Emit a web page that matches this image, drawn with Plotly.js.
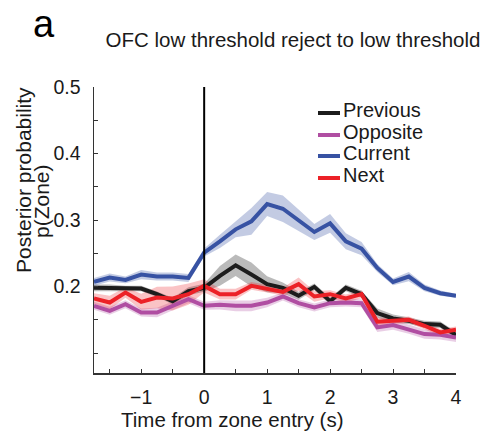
<!DOCTYPE html>
<html>
<head>
<meta charset="utf-8">
<script src="https://cdn.plot.ly/plotly-3.0.1.min.js"></script>
<style>html,body{margin:0;padding:0;background:#fff;}#chart{width:494px;height:439px;}</style>
</head>
<body>
<div id="chart"></div>
<script>
const time = [-1.75,-1.5,-1.25,-1.0,-0.75,-0.5,-0.25,0.0,0.25,0.5,0.75,1.0,1.25,1.5,1.75,2.0,2.25,2.5,2.75,3.0,3.25,3.5,3.75,4.0];

const previousMean = [0.198,0.198,0.197,0.197,0.1885,0.178,0.193,0.198,0.216,0.232,0.218,0.2035,0.198,0.186,0.1995,0.178,0.198,0.1885,0.16,0.152,0.1485,0.1435,0.1425,0.127];
const previousSem  = [0.005,0.005,0.004,0.004,0.004,0.005,0.006,0.006,0.015,0.016,0.018,0.012,0.008,0.006,0.005,0.005,0.005,0.005,0.007,0.006,0.005,0.005,0.005,0.005];

const oppositeMean = [0.171,0.1635,0.1735,0.161,0.161,0.171,0.181,0.171,0.1725,0.171,0.171,0.176,0.185,0.175,0.1685,0.175,0.176,0.175,0.1385,0.142,0.136,0.1285,0.1275,0.1235];
const oppositeSem  = [0.006,0.006,0.006,0.006,0.007,0.007,0.006,0.006,0.007,0.008,0.008,0.007,0.006,0.006,0.006,0.006,0.006,0.006,0.007,0.007,0.007,0.007,0.007,0.007];

const currentMean = [0.207,0.2135,0.21,0.218,0.215,0.215,0.213,0.251,0.268,0.286,0.298,0.324,0.317,0.30,0.282,0.295,0.268,0.257,0.228,0.207,0.215,0.198,0.19,0.186];
const currentSem  = [0.006,0.006,0.005,0.007,0.006,0.006,0.006,0.006,0.01,0.012,0.02,0.018,0.02,0.016,0.012,0.014,0.012,0.01,0.006,0.005,0.007,0.005,0.004,0.003];

const nextMean = [0.182,0.176,0.191,0.177,0.1835,0.182,0.1885,0.201,0.1885,0.1885,0.201,0.197,0.192,0.2035,0.185,0.1885,0.182,0.1885,0.147,0.1485,0.15,0.141,0.131,0.135];
const nextSem  = [0.008,0.01,0.008,0.012,0.016,0.018,0.016,0.01,0.008,0.008,0.006,0.006,0.006,0.01,0.008,0.006,0.006,0.006,0.006,0.005,0.005,0.005,0.005,0.005];

const seriesNames = ['Previous','Opposite','Current','Next'];
const xTickVals = [-1.5,-1,-0.5,0,0.5,1,1.5,2,2.5,3,3.5,4];
const xTickText = ['','\u22121','','0','','1','','2','','3','','4'];
const yTickVals = [0.1,0.15,0.2,0.25,0.3,0.35,0.4,0.45,0.5];
const yTickText = ['','','0.2','','0.3','','0.4','','0.5'];

const series = [
  {name: seriesNames[0], mean: previousMean, sem: previousSem, color: '#1c1c1c', band: 'rgba(0,0,0,0.27)'},
  {name: seriesNames[1], mean: oppositeMean, sem: oppositeSem, color: '#B04EA2', band: 'rgba(176,78,162,0.28)'},
  {name: seriesNames[2], mean: currentMean, sem: currentSem, color: '#3752A3', band: 'rgba(55,82,163,0.3)'},
  {name: seriesNames[3], mean: nextMean, sem: nextSem, color: '#EC2127', band: 'rgba(236,33,39,0.27)'}
];

const FONT = 'Liberation Sans, Arial, sans-serif';
const L = 94, R = 38, T = 87, B = 66, W = 494, H = 439;
const pw = W - L - R, ph = H - T - B;
const px2x = p => (p - L) / pw;
const py2y = p => (H - B - p) / ph;

const traces = [];
series.forEach(s => {
  const upper = s.mean.map((m, i) => m + s.sem[i]);
  const lower = s.mean.map((m, i) => m - s.sem[i]);
  traces.push({
    x: time.concat(time.slice().reverse()),
    y: upper.concat(lower.slice().reverse()),
    type: 'scatter', mode: 'lines', fill: 'toself', fillcolor: s.band,
    line: {width: 0, color: s.band}, hoverinfo: 'skip', showlegend: false
  });
});
series.forEach(s => {
  traces.push({
    x: time, y: s.mean, type: 'scatter', mode: 'lines', name: s.name,
    line: {color: s.color, width: 4}, showlegend: false
  });
});

const shapes = [{
  type: 'line', xref: 'x', yref: 'paper', x0: 0, x1: 0, y0: 0, y1: 1,
  line: {color: '#000', width: 2}, layer: 'above'
}];
const annotations = [];
const legendRows = [110, 132, 153, 175];
series.forEach((s, i) => {
  const ly = legendRows[i] + 3;
  shapes.push({type: 'line', xref: 'paper', yref: 'paper',
    x0: px2x(318), x1: px2x(340), y0: py2y(ly), y1: py2y(ly),
    line: {color: s.color, width: 4}});
  annotations.push({xref: 'paper', yref: 'paper', x: px2x(341), y: py2y(legendRows[i]),
    xanchor: 'left', yanchor: 'middle', text: s.name, showarrow: false,
    font: {family: FONT, size: 20, color: '#1a1a1a'}});
});
annotations.push({xref: 'paper', yref: 'paper', x: px2x(232), y: py2y(419),
  xanchor: 'center', yanchor: 'middle', text: 'Time from zone entry (s)', showarrow: false,
  font: {family: FONT, size: 20.5, color: '#1a1a1a'}});
annotations.push({xref: 'paper', yref: 'paper', x: px2x(23), y: py2y(180),
  xanchor: 'center', yanchor: 'middle', text: 'Posterior probability', textangle: -90, showarrow: false,
  font: {family: FONT, size: 21, color: '#1a1a1a'}});
annotations.push({xref: 'paper', yref: 'paper', x: px2x(41), y: py2y(201),
  xanchor: 'center', yanchor: 'middle', text: 'p(Zone)', textangle: -90, showarrow: false,
  font: {family: FONT, size: 21, color: '#1a1a1a'}});
annotations.push({xref: 'paper', yref: 'paper', x: px2x(44), y: py2y(24),
  xanchor: 'center', yanchor: 'middle', text: 'a', showarrow: false,
  font: {family: FONT, size: 38, color: '#000'}});

const layout = {
  width: W, height: H,
  margin: {l: L, r: R, t: T, b: B, pad: 0},
  paper_bgcolor: '#fff', plot_bgcolor: '#fff',
  showlegend: false,
  title: {text: 'OFC low threshold reject to low threshold', x: 293 / W, xref: 'container', xanchor: 'center',
    y: 1 - 40 / H, yref: 'container', yanchor: 'middle',
    font: {family: FONT, size: 20.5, color: '#1a1a1a'}},
  xaxis: {range: [-1.75, 4], showgrid: false, zeroline: false, showline: true,
    linecolor: '#333', linewidth: 1.5, ticks: 'inside', ticklen: 4, tickwidth: 1, tickcolor: '#333',
    tickmode: 'array', tickvals: xTickVals, ticktext: xTickText, ticklabelstandoff: 6,
    tickfont: {family: FONT, size: 19.5, color: '#1a1a1a'}},
  yaxis: {range: [0.07, 0.5], showgrid: false, zeroline: false, showline: true,
    linecolor: '#333', linewidth: 1.5, ticks: 'inside', ticklen: 4, tickwidth: 1, tickcolor: '#333',
    tickmode: 'array', tickvals: yTickVals, ticktext: yTickText, ticklabelstandoff: 8,
    tickfont: {family: FONT, size: 19.5, color: '#1a1a1a'}},
  shapes: shapes,
  annotations: annotations
};

Plotly.newPlot('chart', traces, layout, {displayModeBar: false, staticPlot: true});
</script>
</body>
</html>
